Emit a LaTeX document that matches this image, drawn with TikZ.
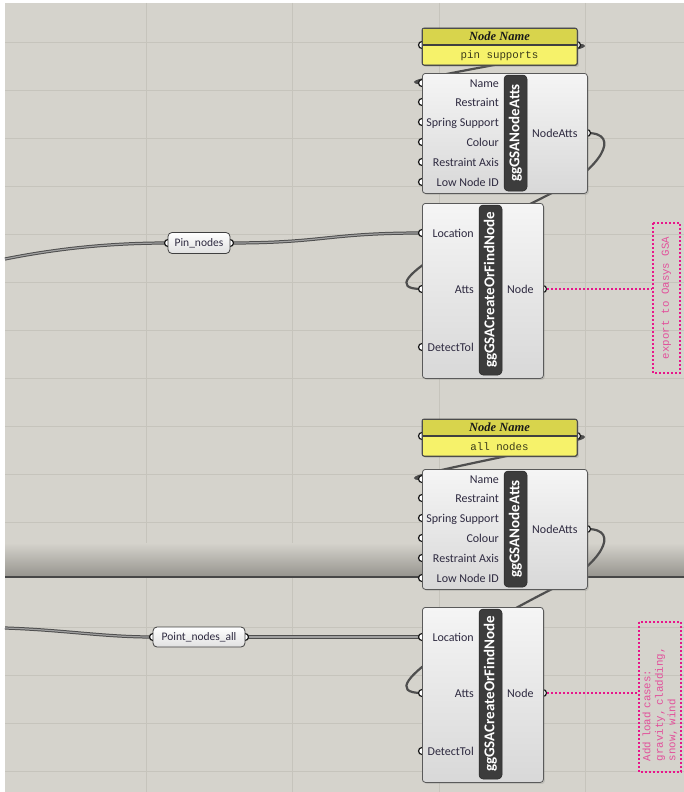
\documentclass[tikz,border=0pt]{standalone}
\usepackage{fontspec}
\setmainfont{Liberation Serif}
\newfontfamily\uifont{Carlito}
\newfontfamily\monofnt{Liberation Mono}
\usetikzlibrary{shadows,calc}
\definecolor{bg}{HTML}{D5D3CC}
\definecolor{gridc}{HTML}{C6C4BC}
\definecolor{bandc}{HTML}{97958F}
\definecolor{ctop}{HTML}{F5F5F5}
\definecolor{cbot}{HTML}{D8D8D8}
\definecolor{cborder}{HTML}{5A5A5A}
\definecolor{barc}{HTML}{3C3C3C}
\definecolor{lblc}{HTML}{2E2A40}
\definecolor{wirec}{HTML}{4E4E4E}
\definecolor{wirein}{HTML}{A0A0A0}
\definecolor{magc}{HTML}{E8168A}
\definecolor{magtxt}{HTML}{E2509B}
\definecolor{yelhead}{HTML}{D8D44C}
\definecolor{yelbody}{HTML}{F6F26A}
\pgfdeclarelayer{bgl}\pgfdeclarelayer{wirel}\pgfdeclarelayer{portl}
\pgfsetlayers{bgl,wirel,portl,main}
\tikzset{
  comp/.style={draw=cborder, line width=0.8pt, rounded corners=3pt, top color=ctop, bottom color=cbot,
    anchor=north west, inner sep=0pt, drop shadow={opacity=0.25, shadow xshift=1.5pt, shadow yshift=-1.5pt}},
  barbox/.style={fill=barc, draw=black!85, line width=0.5pt, rounded corners=4pt, inner sep=0pt},
  bartxt/.style={rotate=90, font=\uifont\bfseries\fontsize{15}{16}\selectfont, text=white, inner sep=0pt},
  port/.style={circle, fill=white, draw=black!90, line width=1.2pt, minimum size=7pt, inner sep=0pt},
  inlbl/.style={anchor=base east, font=\uifont\fontsize{12}{14}\selectfont, text=lblc, inner sep=0pt},
  outlbl/.style={anchor=base west, font=\uifont\fontsize{12}{14}\selectfont, text=lblc, inner sep=0pt},
  parambox/.style={draw=black!75, line width=0.8pt, rounded corners=4pt, top color=white, bottom color=black!12,
    inner sep=0pt, font=\uifont\fontsize{11.5}{13}\selectfont, text=lblc},
  wire/.style={draw=wirec, line width=2.2pt},
  listwire/.style={draw=wirec, line width=1pt, double=wirein, double distance=1.2pt},
  dotline/.style={draw=magc, line width=1.8pt, dash pattern=on 1.8pt off 2.2pt},
  notebox/.style={draw=magc, line width=1.8pt, dash pattern=on 1.8pt off 2.2pt, rotate=90, inner sep=0pt,
    text=magtxt},
  gridline/.style={draw=gridc, line width=0.8pt},
}
\newcommand\mkatts[2]{%
  \begin{pgfonlayer}{portl}
    \foreach \yy [count=\i] in {83,102,122,142,162,182} \node[port] (#1in\i) at (422,#2+\yy) {};
    \node[port] (#1out) at (587,#2+133) {};
  \end{pgfonlayer}
  \node[comp, minimum width=165pt, minimum height=120pt] (#1) at (422,#2+73) {};
  \node[barbox, minimum width=23pt, minimum height=116pt] (#1bar) at (515.5,#2+133) {};
  \node[bartxt] at (#1bar.center) {ggGSANodeAtts};
  \foreach \t/\yy in {Name/83, Restraint/102, Spring Support/122, Colour/142, Restraint Axis/162, Low Node ID/182}
    \node[inlbl] at (499,#2+\yy+4) {\t};
  \node[outlbl] at (532,#2+137) {NodeAtts};
}
\newcommand\mkcf[2]{%
  \begin{pgfonlayer}{portl}
    \foreach \yy [count=\i] in {233,289,347} \node[port] (#1in\i) at (422,#2+\yy) {};
    \node[port] (#1out) at (543,#2+289) {};
  \end{pgfonlayer}
  \node[comp, minimum width=121pt, minimum height=175pt] (#1) at (422,#2+203) {};
  \node[barbox, minimum width=23pt, minimum height=170pt] (#1bar) at (490.5,#2+290) {};
  \node[bartxt] at (#1bar.center) {ggGSACreateOrFindNode};
  \foreach \t/\yy in {Location/233, Atts/289, DetectTol/347}
    \node[inlbl] at (474,#2+\yy+4) {\t};
  \node[outlbl] at (507,#2+293) {Node};
}
\newcommand\mkpanel[3]{%
  \begin{pgfonlayer}{portl}
    \node[port] (#1in) at (422,#2+45) {};
    \node[port] (#1out) at (577,#2+45) {};
  \end{pgfonlayer}
  \node[draw=black!70, line width=0.8pt, rounded corners=2pt, fill=yelbody, anchor=north west, inner sep=0pt,
    minimum width=155pt, minimum height=37pt, drop shadow={opacity=0.25, shadow xshift=1.5pt, shadow yshift=-1.5pt}]
    (#1) at (422,#2+28) {};
  \fill[yelhead] (423,#2+29) rectangle (576,#2+45);
  \draw[black!75, line width=1.6pt] (422.5,#2+45) -- (576.5,#2+45);
  \draw[black!70, line width=0.8pt, rounded corners=2pt] (422,#2+28) rectangle (577,#2+65);
  \node[font=\bfseries\itshape\fontsize{12.5}{14}\selectfont, text=black!90, inner sep=0pt] at (499.5,#2+36.5) {Node Name};
  \node[font=\monofnt\fontsize{10.8}{12}\selectfont, text={rgb,255:red,58;green,58;blue,26}, inner sep=0pt] at (499.5,#2+55.5) {#3};
}
\begin{document}
\begin{tikzpicture}[x=1pt,y=-1pt]
\useasboundingbox (0,0) rectangle (684,792);
\begin{pgfonlayer}{bgl}
  \fill[white] (0,0) rectangle (684,792);
  \fill[bg] (5,3) rectangle (684,792);
  \foreach \x in {146,292,439,585} \draw[gridline] (\x,3) -- (\x,792);
  \foreach \y in {42,90,...,523} \draw[gridline] (5,\y) -- (684,\y);
  \foreach \y in {627,675,723,771} \draw[gridline] (5,\y) -- (684,\y);
  \shade[top color=bg, bottom color=bandc] (5,543) rectangle (684,576);
  \draw[black!72, line width=1.6pt] (5,576.8) -- (684,576.8);
\end{pgfonlayer}

% top group
\mkpanel{pa}{0}{pin supports}
\mkatts{na}{0}
\mkcf{cf}{0}
% bottom group
\mkpanel{pb}{391}{all nodes}
\mkatts{nb}{396}
\mkcf{cg}{404}

% params
\begin{pgfonlayer}{portl}
  \node[port] (pinin) at (168,243) {};
  \node[port] (pinout) at (230,243) {};
  \node[port] (ptin) at (153,637) {};
  \node[port] (ptout) at (245,637) {};
\end{pgfonlayer}
\node[parambox, minimum width=62pt, minimum height=21pt] (pin) at (199,243) {Pin\_nodes};
\node[parambox, minimum width=92pt, minimum height=20pt] (pt) at (199,637) {Point\_nodes\_all};

% notes
\node[notebox, minimum width=150pt, minimum height=27pt, font=\monofnt\fontsize{10.7}{12}\selectfont]
  (note1) at (666.5,298) {export to Oasys GSA};
\node[notebox, minimum width=150pt, minimum height=42pt, text width=128pt, align=left,
  font=\monofnt\fontsize{10.8}{12.5}\selectfont]
  (note2) at (660,697) {Add load cases:\\gravity, cladding,\\snow, wind};
\draw[dotline] (cfout.east) -- (cfout -| note1.north);
\draw[dotline] (cgout.east) -- (cgout -| note2.north);

% wires
\coordinate (w1start) at (5,259);
\coordinate (w2start) at (5,628);
\coordinate (nabend) at ($(naout)+(-29,57)$);
\coordinate (nbbend) at ($(nbout)+(-29,57)$);
\begin{pgfonlayer}{wirel}
  \draw[wire] (paout.center) .. controls +(50,0) and +(-50,0) .. (nain1.center);
  \draw[wire] (pbout.center) .. controls +(50,0) and +(-50,0) .. (nbin1.center);
  \draw[wire] (naout.center) .. controls +(36,0) and +(40,-20) .. (nabend)
     .. controls +(-60,30) and +(-62,0) .. (cfin2.center);
  \draw[wire] (nbout.center) .. controls +(36,0) and +(40,-20) .. (nbbend)
     .. controls +(-60,30) and +(-62,0) .. (cgin2.center);
  \draw[listwire] (w1start) .. controls +(60,-12) and +(-50,0) .. (pinin.center);
  \draw[listwire] (pinout.center) .. controls +(95,0) and +(-95,0) .. (cfin1.center);
  \draw[listwire] (w2start) .. controls +(60,2) and +(-50,0) .. (ptin.center);
  \draw[listwire] (ptout.center) .. controls +(90,0) and +(-90,0) .. (cgin1.center);
\end{pgfonlayer}
\end{tikzpicture}
\end{document}
